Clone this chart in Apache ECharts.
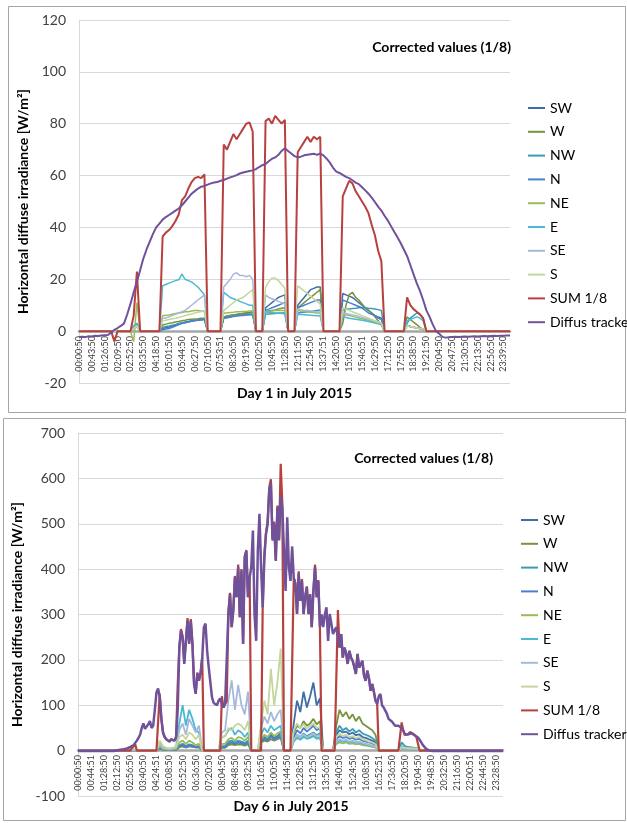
<!DOCTYPE html>
<html><head><meta charset="utf-8">
<script src="https://cdn.jsdelivr.net/npm/echarts@6/dist/echarts.min.js"></script>
<style>html,body{margin:0;padding:0;background:#fff}#c{width:627px;height:823px}</style>
</head><body><div id="c"></div>
<script>
const FONT = 'Lato, "Noto Sans", sans-serif';
const names = ['SW','W','NW','N','NE','E','SE','S','SUM 1/8','Diffus tracker'];
const colors = ['#3F6DA6','#77933C','#3A9DB5','#4A7FCF','#9BBB59','#4BB8D4','#A6B9DB','#C3D69B','#B7413E','#70529A'];
const widths1 = [1.5,1.5,1.5,1.5,1.5,1.5,1.5,1.5,2,2];
const widths6 = [1.8,1.8,1.8,1.8,1.8,1.8,1.8,1.8,2.2,2.5];

const ticks1 = ['00:00:50','00:43:50','01:26:50','02:09:50','02:52:50','03:35:50','04:18:50','05:01:50','05:44:50','06:27:50','07:10:50','07:53:51','08:36:50','09:19:50','10:02:50','10:45:50','11:28:50','12:11:50','12:54:50','13:37:51','14:20:50','15:03:50','15:46:51','16:29:50','17:12:50','17:55:50','18:38:50','19:21:50','20:04:50','20:47:50','21:30:50','22:13:50','22:56:50','23:39:50'];
const ticks2 = ['00:00:50','00:44:51','01:28:50','02:12:50','02:56:50','03:40:50','04:24:51','05:08:50','05:52:50','06:36:50','07:20:50','08:04:50','08:48:50','09:32:50','10:16:50','11:00:50','11:44:50','12:28:50','13:12:50','13:56:50','14:40:50','15:24:50','16:08:50','16:52:51','17:36:50','18:20:50','19:04:50','19:48:50','20:32:50','21:16:50','22:00:51','22:44:50','23:28:50'];

// ---------- Day 1 (4 samples per tick step) ----------
const d1_SW = [0,0,0,0,0,0,0,0,0,0,0,0,0,0,0,0,0, 2,3, 0,0,0,0,0,0,0,
 1,1.3,1.6,2,2.3,2.6,3,3.3,3.6,3.9,4.1,4.3,4.5,4.6, 0,0,0,0,0,
 5.5,5.8,6,6.2,6.4,6.6,6.8,7,7.2,7.5, 0,0,0, 9,10,11,12,13,13.5,14, 0,0,0,
 10,11.5,13,14.5,16,16.5,17,17, 0,0,0,0,0,0,
 14.5,14,13.5,13,12,11,10,9,8,7,6,5.5,5, 0,0,0,0,0,0,0, 2,1.8,1.5,1.2,1,0.8,
 0,0,0,0,0,0,0,0,0,0,0,0,0,0,0,0,0,0,0,0,0,0,0,0,0,0,0];
const d1_W = [0,0,0,0,0,0,0,0,0,0,0,0,0,0,0,0,0, 1,2, 0,0,0,0,0,0,0,
 2.5,2.7,3,3.2,3.5,3.7,4,4.2,4.5,4.6,4.7,4.8,5,5, 0,0,0,0,0,
 5.5,5.8,6,6.2,6.4,6.6,6.8,7,7,7.2, 0,0,0, 7.5,7.8,8,8.2,8.5,8.8,9, 0,0,0,
 9,10,11,12,13,14,15,16, 0,0,0,0,0,0,
 3,10,14,15,13,12,10.5,9,8,7,5.5,4,2.5, 0,0,0,0,0,0,0, 5.5,4.5,3.5,2.5,1.5,0.5,
 0,0,0,0,0,0,0,0,0,0,0,0,0,0,0,0,0,0,0,0,0,0,0,0,0,0,0];
const d1_NW = [0,0,0,0,0,0,0,0,0,0,0,0,0,0,0,0,0, 1,2, 0,0,0,0,0,0,0,
 1.5,1.8,2,2.3,2.6,3,3.2,3.5,3.7,4,4.2,4.4,4.5,4.7, 0,0,0,0,0,
 5,5.3,5.6,5.8,6,6,6.2,6.3,6.4,6.5, 0,0,0, 6.5,6.6,6.7,6.8,7,7,7.1, 0,0,0,
 7,7.2,7.3,7.5,7.6,7.8,8,8.2, 0,0,0,0,0,0,
 8,8.5,8.5,8.7,8.8,9,9,9,8.8,8.7,8.5,8.3,8, 0,0,0,0,0,0,0, 3,5,6,7,6.5,5,
 0,0,0,0,0,0,0,0,0,0,0,0,0,0,0,0,0,0,0,0,0,0,0,0,0,0,0];
const d1_N = [0,0,0,0,0,0,0,0,0,0,0,0,0,0,0,0,0, 1,2, 0,0,0,0,0,0,0,
 0.5,0.8,1,1.5,2,2.5,3,3.2,3.5,3.8,4,4.2,4.3,4.5, 0,0,0,0,0,
 5,5.2,5.4,5.6,5.8,6,6,6.2,6.3,6.4, 0,0,0, 8,8.5,9,9.5,10,10.5,11, 0,0,0,
 9,9.5,10,10.5,11,11.5,12,12, 0,0,0,0,0,0,
 12,11.5,11,10.5,10,9.5,9,8,7,6.5,6,5,4.5, 0,0,0,0,0,0,0, 2,1.8,1.5,1.2,1,0.8,
 0,0,0,0,0,0,0,0,0,0,0,0,0,0,0,0,0,0,0,0,0,0,0,0,0,0,0];
const d1_NE = [0,0,0,0,0,0,0,0,0,0,0,0,0,0,0,0,0, -4,11, 0,0,0,0,0,0,0,
 6,6,6.2,6.5,6.8,7,7.2,7.5,7.5,7.8,8,8,7.8,7.5, 0,0,0,0,0,
 7,7,7.2,7.3,7.5,7.5,7.6,7.6,7.8,7.8, 0,0,0, 7.5,7.5,7.8,8,8,8,8, 0,0,0,
 8,7.8,7.6,7.5,7.3,7.2,7,7, 0,0,0,0,0,0,
 6.5,6.2,6,5.7,5.4,5.1,4.8,4.5,4.2,3.8,3.5,3,2.6, 0,0,0,0,0,0,0, 2,1.8,1.5,1.2,1,0.8,
 0,0,0,0,0,0,0,0,0,0,0,0,0,0,0,0,0,0,0,0,0,0,0,0,0,0,0];
const d1_E = [0,0,0,0,0,0,0,0,0,0,0,0,0,0,0,0,0, 2,3, 0,0,0,0,0,0,0,
 17.5,18,18.5,19,19.5,19.8,22,20,19.5,19,18,17,15.5,14, 0,0,0,0,0,
 15,14,13,12.5,12,11.5,11,10.5,10,10, 0,0,0, 7.5,7.3,7.2,7,7,6.8,6.7, 0,0,0,
 6.5,6.4,6.3,6.2,6.1,6,5.9,5.8, 0,0,0,0,0,0,
 5.5,5.3,5,4.8,4.6,4.4,4.2,4,3.7,3.4,3.1,2.8,2.5, 0,0,0,0,0,0,0, 4,4.5,5,5.5,5,4,
 0,0,0,0,0,0,0,0,0,0,0,0,0,0,0,0,0,0,0,0,0,0,0,0,0,0,0];
const d1_SE = [0,0,0,0,0,0,0,0,0,0,0,0,0,0,0,0,0, 1,2, 0,0,0,0,0,0,0,
 5,5,5.5,6,6.5,7,7.5,8,9,10,11,12,13,14, 0,0,0,0,0,
 17,18.5,20,22,22.5,21.5,21.5,21,21.5,20, 0,0,0, 14,13,12.5,12,11.5,11,10.5, 0,0,0,
 8.5,8.3,8,8,7.8,7.6,7.5,7.3, 0,0,0,0,0,0,
 7,6.8,6.5,6.2,6,5.7,5.3,5,4.6,4.2,3.8,3.4,3, 0,0,0,0,0,0,0, 2,1.8,1.5,1.2,1,0.8,
 0,0,0,0,0,0,0,0,0,0,0,0,0,0,0,0,0,0,0,0,0,0,0,0,0,0,0];
const d1_S = [0,0,0,0,0,0,0,0,0,0,0,0,0,0,0,0,0, 1,2, 0,0,0,0,0,0,0,
 4,4.2,4.5,4.8,5,5.3,5.6,6,6.3,6.6,7,7.3,7.6,8, 0,0,0,0,0,
 8,9,10,11,12,12.5,13,14,15,16, 0,0,0, 17,19,20.5,20.5,19.5,18,16.5, 0,0,0,
 17.5,16.5,15.5,14.5,13.5,12.5,11.5,10.5, 0,0,0,0,0,0,
 9,8.5,8,7.5,7,6.5,6,5.5,5,4.5,4,3.5,3, 0,0,0,0,0,0,0, 2,1.8,1.5,1.2,1,0.8,
 0,0,0,0,0,0,0,0,0,0,0,0,0,0,0,0,0,0,0,0,0,0,0,0,0,0,0];
const d1_SUM = [0,0,0,0,0,0,0,0,0,0,0, -4, 0,0,0,0,0, 6,23, 0,0,0,0,0,0,0,
 36.5,38,39,40.5,42.5,45,50.5,52,55,57.5,59,59.5,59,60.5, 0,0,0,0,0,
 72,70,73,76,74,76,78,80,80.5,77, 0,0,0, 81,82,80,83,81.5,80,81.5, 0,0,0,
 69,71,73,75,73,75,74,75, 0,0,0,0,0,0,
 52,55,58,57,54,52,50,48,45.5,41,37,31,27, 0,0,0,0,0,0,0, 13,10,8.5,7.5,6.5,5,
 0,0,0,0,0,0,0,0,0,0,0,0,0,0,0,0,0,0,0,0,0,0,0,0,0,0,0];
const d1_DIF = [-2.3,-2.2,-2.3,-2,-2.1,-1.8,-1.9,-1.7,-1.6,-1.5,
 -0.5,0.5,1.2,2,3,6.5,10.5,15,19,23.5,
 28,31.5,34.5,37.5,40,41.5,43,44,44.8,45.6,
 46.5,47.3,48.5,50,51.5,53,54,55,55.7,56,
 56.5,57,57.3,57.5,58,58.3,58.8,59.3,59.7,60.2,
 60.8,61.2,61.5,61.8,62,62.5,63.3,64,64.5,65.5,
 66.5,67,68,69.5,70.5,69.5,68.5,67.5,67,67.3,
 67.8,68,68.2,68.4,68,68.5,67.8,66.5,65,63,
 61.5,61,60.3,59.5,59,58.2,57.3,56.7,55.5,54.3,
 53,51.5,49.8,48,46.5,44.5,42.7,40.5,38.3,36.2,
 34,31.5,29,25.5,22,18.5,15.5,12,8,5.5,
 2.5,0,-1,-2.2,-2.5,
 -2.4,-2.3,-2.2,-2.3,-2.2,-2.1,-2.2,-2.1,-2,-2.1,
 -2,-1.9,-2,-1.9,-1.8,-1.9,-1.8,-1.8,-1.7,-1.7];

// ---------- Day 6, sensors (4 samples per tick step) ----------
const d6_SW = [0,0,0,0,0,0,0,0,0,0,0,0,0,0,0,0,0, 1, 0,0,0,0,0,0,0,
 5,2,2,1,2,2,8,10,7,10,9,7,8, 0,0,0,0,0,0,
 8,8,15,18,15,18,17,14,20, 0,0,0, 20,30,25,35,28,32,38, 0,0,0,
 60,110,85,130,95,120,150,100,115, 0,0,0,0,
 35,45,40,42,36,40,34,36,30,28,25,22,18, 0,0,0,0,0,0,0, 5,4,4,3,3,2,
 0,0,0,0,0,0,0,0,0,0,0,0,0,0,0,0,0,0,0,0,0,0,0,0,0,0];
const d6_W = [0,0,0,0,0,0,0,0,0,0,0,0,0,0,0,0,0, 1, 0,0,0,0,0,0,0,
 5,2,2,1,2,2,8,10,7,10,9,7,8, 0,0,0,0,0,0,
 6,6,12,14,12,14,13,11,14, 0,0,0, 18,22,20,25,22,25,28, 0,0,0,
 40,55,50,65,55,60,70,58,65, 0,0,0,0,
 55,90,75,85,70,80,65,75,60,55,50,45,35, 0,0,0,0,0,0,0, 6,5,5,4,4,3,
 0,0,0,0,0,0,0,0,0,0,0,0,0,0,0,0,0,0,0,0,0,0,0,0,0,0];
const d6_NW = [0,0,0,0,0,0,0,0,0,0,0,0,0,0,0,0,0, 1, 0,0,0,0,0,0,0,
 8,3,2,2,2,3,12,15,10,14,12,9,10, 0,0,0,0,0,0,
 10,10,20,22,18,22,20,17,22, 0,0,0, 22,28,24,32,26,30,34, 0,0,0,
 25,35,30,38,32,36,40,34,38, 0,0,0,0,
 40,55,45,50,42,48,40,45,38,35,32,28,22, 0,0,0,0,0,0,0, 18,10,8,7,6,5,
 0,0,0,0,0,0,0,0,0,0,0,0,0,0,0,0,0,0,0,0,0,0,0,0,0,0];
const d6_N = [0,0,0,0,0,0,0,0,0,0,0,0,0,0,0,0,0, 1, 0,0,0,0,0,0,0,
 6,3,2,2,2,3,10,12,8,12,10,8,9, 0,0,0,0,0,0,
 8,8,15,18,15,18,16,14,18, 0,0,0, 20,25,22,30,25,28,32, 0,0,0,
 30,45,38,50,42,48,55,45,50, 0,0,0,0,
 25,32,28,30,26,28,24,26,22,20,18,16,12, 0,0,0,0,0,0,0, 5,4,4,3,3,2,
 0,0,0,0,0,0,0,0,0,0,0,0,0,0,0,0,0,0,0,0,0,0,0,0,0,0];
const d6_NE = [0,0,0,0,0,0,0,0,0,0,0,0,0,0,0,0,0, 1, 0,0,0,0,0,0,0,
 10,4,3,2,3,4,18,22,15,22,18,12,15, 0,0,0,0,0,0,
 15,15,25,28,22,30,28,22,30, 0,0,0, 25,35,30,40,32,38,42, 0,0,0,
 22,30,26,32,28,30,34,28,30, 0,0,0,0,
 15,18,16,18,15,16,14,15,12,11,10,8,7, 0,0,0,0,0,0,0, 5,4,4,3,3,2,
 0,0,0,0,0,0,0,0,0,0,0,0,0,0,0,0,0,0,0,0,0,0,0,0,0,0];
const d6_E = [0,0,0,0,0,0,0,0,0,0,0,0,0,0,0,0,0, 1, 0,0,0,0,0,0,0,
 20,8,5,4,6,8,60,100,55,90,70,45,40, 0,0,0,0,0,0,
 30,32,45,50,35,45,40,30,40, 0,0,0, 35,50,40,55,45,50,55, 0,0,0,
 20,28,24,30,26,28,32,26,28, 0,0,0,0,
 18,22,20,22,18,20,17,18,15,14,12,10,8, 0,0,0,0,0,0,0, 10,6,5,5,4,3,
 0,0,0,0,0,0,0,0,0,0,0,0,0,0,0,0,0,0,0,0,0,0,0,0,0,0];
const d6_SE = [0,0,0,0,0,0,0,0,0,0,0,0,0,0,0,0,0, 1, 0,0,0,0,0,0,0,
 15,6,4,3,5,6,45,60,35,70,55,40,55, 0,0,0,0,0,0,
 40,45,110,155,90,145,100,80,130, 0,0,0, 50,75,60,85,65,80,90, 0,0,0,
 25,35,30,36,30,34,38,32,34, 0,0,0,0,
 20,25,22,24,20,22,19,20,17,15,13,11,9, 0,0,0,0,0,0,0, 5,4,4,3,3,2,
 0,0,0,0,0,0,0,0,0,0,0,0,0,0,0,0,0,0,0,0,0,0,0,0,0,0];
const d6_S = [0,0,0,0,0,0,0,0,0,0,0,0,0,0,0,0,0, 5, 0,0,0,0,0,0,0,
 22,10,6,5,6,8,30,35,25,40,35,25,35, 0,0,0,0,0,0,
 30,32,50,45,55,60,55,45,65, 0,0,0, 60,110,80,180,100,150,225, 0,0,0,
 45,60,50,58,48,55,60,50,52, 0,0,0,0,
 30,38,32,35,30,32,28,30,25,23,20,18,14, 0,0,0,0,0,0,0, 8,6,6,5,5,4,
 0,0,0,0,0,0,0,0,0,0,0,0,0,0,0,0,0,0,0,0,0,0,0,0,0,0];

// ---------- Day 6, SUM and tracker (8 samples per tick step) ----------
const d6_SUM = [0,0,0,0,0,0,0,0,0,0,0,0,0,0,0,0,0,0,0,0,0,0,0,0,0,0,0,0,0,0,0,0,0,
 6,10,14,
 0,0,0,0,0,0,0,0,0,0,0,0,0,0,
 125,70,40,30,25,22,20,25,28,22,30,145,228,268,252,195,242,292,238,290,238,150,128,172,156,172,205,
 0,0,0,0,0,0,0,0,0,0,0,
 120,95,103,108,305,348,272,310,385,338,410,294,400,235,428,442,338,382,
 0,0,0,0,0,0,0,
 318,430,480,505,580,598,468,505,420,540,468,632,545,
 0,0,0,0,0,0,
 380,370,301,395,330,378,301,340,362,301,345,272,352,410,338,376,272,
 0,0,0,0,0,0,0,0,0,0,
 310,227,257,205,227,215,191,220,205,198,185,169,213,183,190,198,165,154,176,160,132,147,130,110,105,
 0,0,0,0,0,0,0,0,0,0,0,0,0,0,
 62,44,35,33,36,41,38,37,34,30,29,
 0,0,0,0,0,0,0,0,0,0,0,0,0,0,0,0,0,0,0,0,0,0,0,0,0,0,0,0,0,0,0,0,0,0,0,0,0,0,0,0,0,0,0,0,0,0,0,0,0,0,0,0];
const d6_DIF = [-1,-1,-1,-1,-1,-1,-1,-1,-1,-1,-1,-1,-1,-1,-1,-1,-1,-1,-1,-1,-1,-1,-1,-1,
 1,1,2,2,3,4,5,6,8,10,12,16,22,28,35,50,60,48,45,58,65,50,55,90,128,137,
 118,70,40,30,25,22,20,25,28,22,30,90,228,264,250,191,240,286,235,286,235,147,125,170,154,170,205,
 272,280,220,183,150,117,105,103,100,
 110,115,103,95,103,105,301,345,272,308,382,338,404,294,397,235,426,440,338,382,
 404,485,300,242,440,522,404,316,426,477,499,573,590,463,500,418,536,463,560,536,
 440,352,514,404,374,450,380,367,301,390,330,374,301,340,360,301,345,272,350,404,
 338,374,272,300,272,300,316,242,301,280,257,265,272,250,227,257,205,227,215,191,
 220,205,198,185,169,213,183,190,198,165,154,176,160,132,147,130,110,103,120,125,
 100,95,88,81,70,66,64,62,55,51,55,59,50,44,35,33,36,40,38,37,34,30,29,24,18,12,8,4,2,0,
 -1,-1,-1,-1,-1,-1,-1,-1,-1,-1,-1,-1,-1,-1,-1,-1,-1,-1,-1,-1,-1,-1,-1,-1,-1,-1,-1,-1,-1,-1,-1,-1,-1,-1,-1,-1,-1,-1,-1,-1,-1,-1,-1,-1,-1];

const day1 = [d1_SW,d1_W,d1_NW,d1_N,d1_NE,d1_E,d1_SE,d1_S,d1_SUM,d1_DIF];
const day6 = [d6_SW,d6_W,d6_NW,d6_N,d6_NE,d6_E,d6_SE,d6_S,d6_SUM,d6_DIF];

function buildCats(ticks, per, extra){
  const out=[];
  ticks.forEach((t,i)=>{
    out.push(t);
    const n = i<ticks.length-1 ? per-1 : extra;
    for(let k=1;k<=n;k++) out.push(t+'\u200b'.repeat(k));
  });
  return out;
}
const cats1 = buildCats(ticks1, 4, 2);
const cats2 = buildCats(ticks2, 4, 2);
const cats2d = buildCats(ticks2, 8, 4);
day1.forEach((a,i)=>{ if(a.length!==cats1.length) throw new Error('day1 '+names[i]+' len '+a.length+' vs '+cats1.length); });
day6.forEach((a,i)=>{ const want = i>=8 ? cats2d.length : cats2.length; if(a.length!==want) throw new Error('day6 '+names[i]+' len '+a.length+' vs '+want); });

const yName = 'Horizontal diffuse irradiance [W/m²]';
function xAx(gi, cats, off){
  return {type:'category', gridIndex:gi, data:cats, boundaryGap:false, position:'bottom', offset:off,
    axisLine:{onZero:false, lineStyle:{color:'#a6a6a6', width:2.5}},
    axisTick:{show:false}, splitLine:{show:false},
    axisLabel:{interval:3, rotate:90, fontSize:9, color:'#404040', margin:5, fontFamily:FONT}};
}
function yAx(gi, min, max, step, gap){
  return {type:'value', gridIndex:gi, min:min, max:max, interval:step,
    axisLine:{show:true, lineStyle:{color:'#d9d9d9'}}, axisTick:{show:false},
    splitLine:{lineStyle:{color:'#d9d9d9', width:1}},
    axisLabel:{fontSize:14, color:'#404040', margin:13, fontFamily:FONT},
    name:yName, nameLocation:'middle', nameGap:gap,
    nameTextStyle:{fontWeight:'bold', fontSize:14, color:'#000', fontFamily:FONT}};
}
const series=[];
[day1, day6].forEach((set,gi)=>{
  const w = gi===0 ? widths1 : widths6;
  set.forEach((arr,i)=>{
    const xi = (gi===1 && i>=8) ? 2 : gi;
    series.push({name:names[i], type:'line', xAxisIndex:xi, yAxisIndex:gi, data:arr,
      showSymbol:false, symbol:'none', animation:false,
      lineStyle:{color:colors[i], width:w[i]}, itemStyle:{color:colors[i]}});
  });
});
function legend(left, top){
  return {orient:'vertical', left:left, top:top, icon:'rect', itemWidth:17, itemHeight:2,
    itemGap:7.8, data:names, selectedMode:false,
    textStyle:{fontSize:14, lineHeight:16, color:'#000', fontFamily:FONT}};
}
const chart = echarts.init(document.getElementById('c'), null, {renderer:'canvas'});
chart.setOption({
  animation:false,
  backgroundColor:'#fff',
  grid:[{left:79, top:20, width:431, height:363}, {left:78, top:433, width:425, height:363}],
  xAxis:[xAx(0,cats1,-52), xAx(1,cats2,-46),
    {type:'category', gridIndex:1, data:cats2d, boundaryGap:false, show:false}],
  yAxis:[yAx(0,-20,120,20,40), yAx(1,-100,700,100,46)],
  legend:[legend(523,95), legend(516,507)],
  series:series,
  graphic:[
    {type:'rect', z:-10, silent:true, shape:{x:8.5,y:6.5,width:617,height:406}, style:{fill:'none', stroke:'#a6a6a6', lineWidth:1}},
    {type:'rect', z:-10, silent:true, shape:{x:3.5,y:418.5,width:622,height:402}, style:{fill:'none', stroke:'#a6a6a6', lineWidth:1}},
    {type:'text', silent:true, style:{text:'Corrected values (1/8)', x:511, y:47, align:'right', verticalAlign:'middle', font:'bold 14px '+FONT, fill:'#000'}},
    {type:'text', silent:true, style:{text:'Corrected values (1/8)', x:493, y:458, align:'right', verticalAlign:'middle', font:'bold 14px '+FONT, fill:'#000'}},
    {type:'text', silent:true, style:{text:'Day 1 in July 2015', x:294.5, y:393, align:'center', verticalAlign:'middle', font:'bold 14px '+FONT, fill:'#000'}},
    {type:'text', silent:true, style:{text:'Day 6 in July 2015', x:291, y:806, align:'center', verticalAlign:'middle', font:'bold 14px '+FONT, fill:'#000'}}
  ]
});
</script>
</body></html>
